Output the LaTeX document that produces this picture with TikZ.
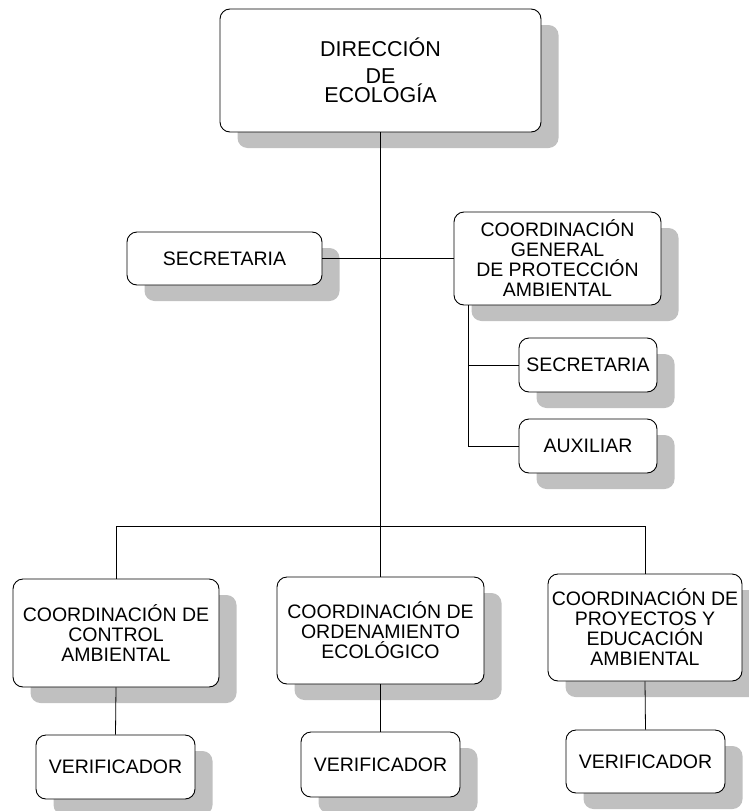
\documentclass[tikz,border=0pt]{standalone}
\usepackage{fontspec}
\setmainfont{Liberation Sans}
\usetikzlibrary{shadows,calc}
\definecolor{shadowgray}{RGB}{192,192,192}
\tikzset{
  orgbox/.style={draw=black, line width=0.9pt, fill=white, rounded corners=10pt,
    inner sep=0pt, align=center, font=\fontsize{19.5}{20}\selectfont,
    drop shadow={shadow xshift=17.5pt, shadow yshift=-16pt, fill=shadowgray, opacity=1}},
  conn/.style={draw=black, line width=0.8pt}
}
\begin{document}
\begin{tikzpicture}[x=1pt,y=-1pt]
\useasboundingbox (0,0) rectangle (749,811);
% nodes
\node[orgbox, minimum width=321pt, minimum height=123pt, font=\fontsize{21.5}{18.5}\selectfont, text depth=0pt] (top) at (380.5,70.5) {DIRECCIÓN\\[7.8pt]DE\\ECOLOGÍA};
\node[orgbox, minimum width=195pt, minimum height=53pt] (secL) at (224.5,258.5) {SECRETARIA};
\node[orgbox, minimum width=207pt, minimum height=93pt] (cgen) at (557.5,258.5) {COORDINACIÓN\\GENERAL\\DE PROTECCIÓN\\AMBIENTAL};
\node[orgbox, minimum width=138pt, minimum height=54pt] (sec2) at (588,365) {SECRETARIA};
\node[orgbox, minimum width=138pt, minimum height=54pt] (aux) at (588,446) {AUXILIAR};
\node[orgbox, minimum width=206pt, minimum height=108pt] (cl) at (116,633) {COORDINACIÓN DE\\CONTROL\\AMBIENTAL};
\node[orgbox, minimum width=207pt, minimum height=107pt] (cm) at (380.5,630.5) {COORDINACIÓN DE\\ORDENAMIENTO\\ECOLÓGICO};
\node[orgbox, minimum width=194pt, minimum height=107pt] (cr) at (645,627.5) {COORDINACIÓN DE\\PROYECTOS Y\\EDUCACIÓN\\AMBIENTAL};
\node[orgbox, minimum width=159pt, minimum height=64pt] (vl) at (115.5,767) {VERIFICADOR};
\node[orgbox, minimum width=159pt, minimum height=65pt] (vm) at (380.5,764.5) {VERIFICADOR};
\node[orgbox, minimum width=159pt, minimum height=63pt] (vr) at (645.5,761.5) {VERIFICADOR};
% coordinates
\coordinate (bus) at (0,526);
\coordinate (br) at ($(cgen.south west)+(15,0)$);
% connectors
\draw[conn] (top.south) -- (cm.north);
\draw[conn] (cl.north |- bus) -- (cr.north |- bus);
\draw[conn] (cl.north |- bus) -- (cl.north);
\draw[conn] (cr.north |- bus) -- (cr.north);
\draw[conn] (secL.east) -- (cgen.west);
\draw[conn] (br) |- (aux.west);
\draw[conn] (br |- sec2.west) -- (sec2.west);
\draw[conn] (cl.south) -- (vl.north);
\draw[conn] (cm.south) -- (vm.north);
\draw[conn] (cr.south) -- (vr.north);
\end{tikzpicture}
\end{document}
